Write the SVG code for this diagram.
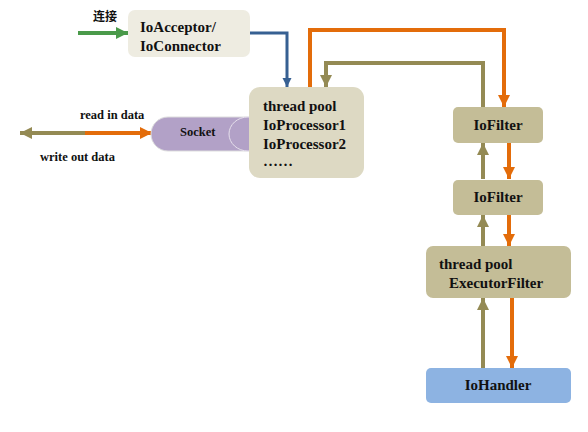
<svg xmlns="http://www.w3.org/2000/svg" width="588" height="432" viewBox="0 0 588 432">
<style>
.t{font-family:"Liberation Serif","Times New Roman",serif;font-weight:bold;font-size:15px;fill:#111}
.s{font-family:"Liberation Serif","Times New Roman",serif;font-weight:bold;font-size:12.5px;fill:#111}
.c{fill:none;stroke-width:4}
.or{stroke:#e36c0a}
.ol{stroke:#948a54}
</style>
<defs>
<marker id="ao" markerWidth="4" markerHeight="4" refX="3" refY="2" orient="auto" markerUnits="strokeWidth"><path d="M0,0.5 L3,2 L0,3.5 Z" fill="#e36c0a"/></marker>
<marker id="al" markerWidth="4" markerHeight="4" refX="3" refY="2" orient="auto" markerUnits="strokeWidth"><path d="M0,0.5 L3,2 L0,3.5 Z" fill="#948a54"/></marker>
<marker id="ab" markerWidth="4" markerHeight="4" refX="3" refY="2" orient="auto" markerUnits="strokeWidth"><path d="M0,0.5 L3,2 L0,3.5 Z" fill="#376092"/></marker>
<marker id="ag" markerWidth="4" markerHeight="4" refX="3" refY="2" orient="auto" markerUnits="strokeWidth"><path d="M0,0.5 L3,2 L0,3.5 Z" fill="#4a9a4a"/></marker>
</defs>
<rect width="588" height="432" fill="#fff"/>
<g id="connectors">
<path d="M78,33 H128" class="c" stroke="#4a9a4a" marker-end="url(#ag)"/>
<path d="M250,33 H287 V87" fill="none" stroke="#376092" stroke-width="3" marker-end="url(#ab)"/>
<path d="M85,133 H20" class="c ol" marker-end="url(#al)"/>
<path d="M85,133 H152" class="c or" marker-end="url(#ao)"/>
<path d="M310,87 V30 H504 V107" class="c or" marker-end="url(#ao)"/>
<path d="M483,107 V63 H326 V87" class="c ol" marker-end="url(#al)"/>
<path d="M509,143 V179" class="c or" marker-end="url(#ao)"/>
<path d="M483,179 V143" class="c ol" marker-end="url(#al)"/>
<path d="M509,215 V246" class="c or" marker-end="url(#ao)"/>
<path d="M483,246 V215" class="c ol" marker-end="url(#al)"/>
<path d="M512,298 V368" class="c or" marker-end="url(#ao)"/>
<path d="M483,368 V298" class="c ol" marker-end="url(#al)"/>
</g>
<text x="93" y="21" font-family="'Noto Sans CJK SC',sans-serif" font-size="12" font-weight="bold" fill="#111">连接</text>
<text x="80" y="119" class="s">read in data</text>
<text x="40" y="161" class="s">write out data</text>
<g id="acceptor">
<rect x="128" y="10" width="122" height="47" rx="7" fill="#eeece1"/>
<text x="140" y="32" class="t">IoAcceptor/</text>
<text x="140" y="51" class="t">IoConnector</text>
</g>
<g id="socket">
<path d="M168,117 H252 V151 H168 A17,17 0 0 1 168,117 Z" fill="#b2a1c7" stroke="#ddd" stroke-width="1"/>
<ellipse cx="248" cy="134" rx="19" ry="17" fill="#b2a1c7" stroke="#e6e0ec" stroke-width="1"/>
<text x="180" y="136" class="s">Socket</text>
</g>
<g id="processor">
<rect x="249" y="87" width="115" height="91" rx="11" fill="#ddd9c3"/>
<text x="263" y="111" class="t">thread pool</text>
<text x="263" y="130" class="t">IoProcessor1</text>
<text x="263" y="149" class="t">IoProcessor2</text>
<text x="263" y="166" class="t">……</text>
</g>
<g id="filter1">
<rect x="453" y="107" width="90" height="36" rx="5" fill="#c4bd97"/>
<text x="498" y="130" class="t" text-anchor="middle">IoFilter</text>
</g>
<g id="filter2">
<rect x="453" y="180" width="90" height="35" rx="5" fill="#c4bd97"/>
<text x="498" y="202" class="t" text-anchor="middle">IoFilter</text>
</g>
<g id="executor">
<rect x="426" y="246" width="145" height="52" rx="7" fill="#c4bd97"/>
<text x="439" y="269" class="t">thread pool</text>
<text x="449" y="288" class="t">ExecutorFilter</text>
</g>
<g id="handler">
<rect x="426" y="368" width="145" height="35" rx="5" fill="#8db3e2"/>
<text x="498" y="390" class="t" text-anchor="middle">IoHandler</text>
</g>
</svg>
